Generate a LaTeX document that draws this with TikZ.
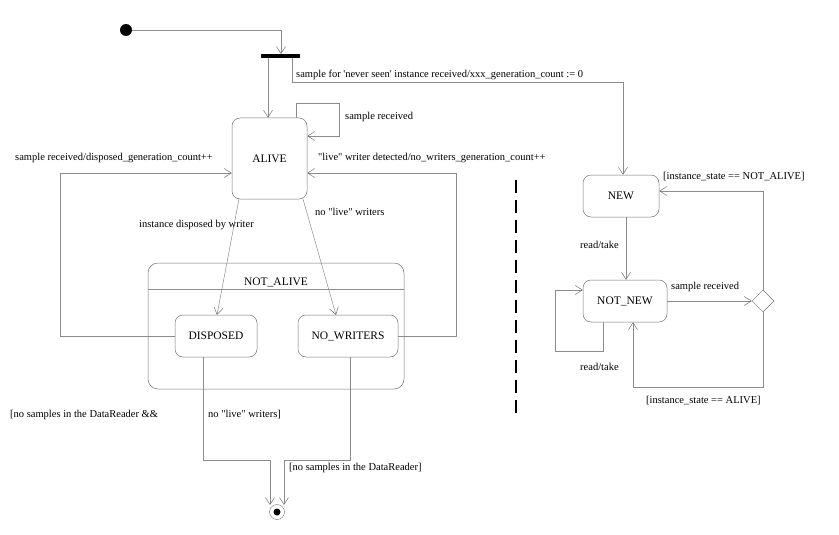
\documentclass[tikz,border=0pt]{standalone}
\usepackage{fontspec}
\setmainfont{Liberation Serif}[Ligatures=TeXOff]
\usetikzlibrary{shapes.geometric,arrows.meta}
\newcommand{\dq}{\symbol{34}}
\newcommand{\sq}{\symbol{39}}
\begin{document}
\begin{tikzpicture}[x=1pt,y=-1pt,
  line/.style={draw=black!45,line width=0.5pt},
  arr/.style={line,-{Straight Barb[length=7pt,width=9pt,black!55]}},
  st/.style={draw=black!55,line width=0.5pt,rounded corners=8pt,minimum width=#1,minimum height=42pt,inner sep=0pt,font=\fontsize{11.5}{14}\selectfont},
  lbl/.style={font=\fontsize{10.5}{13}\selectfont,inner sep=0pt,anchor=west},
]
\useasboundingbox (0,0) rectangle (839,535);
% initial
\node[circle,fill=black,minimum size=12pt,inner sep=0pt] (init) at (126,30) {};
\node[fill=black,minimum width=39pt,minimum height=4.5pt,inner sep=0pt] (bar) at (280.5,56) {};
\coordinate (barin) at (281,54);
\draw[arr] (init.east) -| (barin);
% states
\node[st=75pt,minimum height=81pt] (alive) at (269.5,158.5) {ALIVE};
\node[draw=black!55,line width=0.5pt,rounded corners=10pt,minimum width=256pt,minimum height=126pt,inner sep=0pt] (na) at (276,326) {};
\draw[line] (148,289) -- (404,289);
\node[font=\fontsize{11.5}{14}\selectfont] (nal) at (276,282) {NOT\_ALIVE};
\node[st=82pt] (disp) at (216,336) {DISPOSED};
\node[st=100pt] (nw) at (348,336) {NO\_WRITERS};
\node[st=76pt] (new) at (621,196) {NEW};
\node[st=84pt] (nnew) at (625,301) {NOT\_NEW};
\node[diamond,draw=black!55,line width=0.5pt,minimum size=22pt,inner sep=0pt] (dia) at (763,301) {};
% final
\node[circle,draw=black!55,minimum size=15pt,inner sep=0pt] (fin) at (277,512) {};
\node[circle,fill=black,minimum size=7pt,inner sep=0pt] at (fin) {};
% fork outputs
\coordinate (b1) at (268,58);
\draw[arr] (b1) -- (alive.north -| b1);
\coordinate (b2) at (292,58);
\draw[arr] (b2) |- (623,82) -- (new.north -| 623,0);
\node[lbl] (l1) at (296,75) {sample for \sq never seen\sq\ instance received/xxx\_generation\_count := 0};
% alive self loop
\draw[arr] (296,118) |- (339,103) |- (alive.east |- 0,136);
\node[lbl] (l2) at (345,117) {sample received};
% left loop
\draw[arr] (disp.west) -| (60,173) -- (alive.west |- 0,173);
\node[lbl] (l3) at (15,158) {sample received/disposed\_generation\_count++};
% right loop
\draw[arr] (nw.east) -| (456,173) -- (alive.east |- 0,173);
\node[lbl] (l4) at (318,158) {\dq live\dq\ writer detected/no\_writers\_generation\_count++};
% alive -> substates
\draw[arr] (239,199) -- (217,315);
\node[lbl] (l5) at (139,225) {instance disposed by writer};
\draw[arr] (303,199) -- (336,315);
\node[lbl] (l6) at (315,212) {no \dq live\dq\ writers};
% to final
\draw[arr] (disp.south -| 203,0) |- (270,460) -- (270,505);
\draw[arr] (nw.south -| 350,0) |- (284,460) -- (284,505);
\node[lbl] (l7) at (10,415) {[no samples in the DataReader \&\&};
\node[lbl] (l8) at (208,415) {no \dq live\dq\ writers]};
\node[lbl] (l9) at (289,468) {[no samples in the DataReader]};
% separator
\draw[line width=2pt,dash pattern=on 13pt off 7pt] (516,180) -- (516,418);
% right side
\draw[arr] (new.south -| 626,0) -- (nnew.north -| 626,0);
\node[lbl] (l10) at (580,245) {read/take};
\draw[arr] (603,322) |- (555,351) |- (nnew.west |- 0,290);
\node[lbl] (l11) at (580,367) {read/take};
\draw[arr] (nnew.east) -- (dia.west);
\node[lbl] (l12) at (671,287) {sample received};
\draw[arr] (dia.north) |- (new.east |- 0,191);
\node[lbl] (l13) at (663,177) {[instance\_state == NOT\_ALIVE]};
\draw[arr] (dia.south) |- (633,387) -- (nnew.south -| 633,0);
\node[lbl] (l14) at (646,401) {[instance\_state == ALIVE]};
\end{tikzpicture}
\end{document}
